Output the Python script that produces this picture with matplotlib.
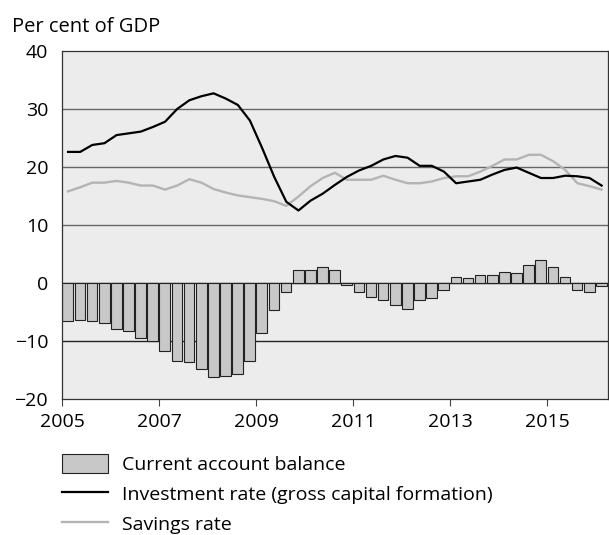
import numpy as np
import matplotlib.pyplot as plt
from matplotlib.patches import Patch
from matplotlib.lines import Line2D

plt.rcParams['font.family'] = ['Open Sans', 'DejaVu Sans']

# quarterly data 2005Q1 - 2016Q1
current_account = [-6.6, -6.3, -6.6, -6.9, -8.0, -8.3, -9.4, -10.0, -11.7, -13.4,
                   -13.7, -14.8, -16.2, -16.0, -15.7, -13.4, -8.6, -4.6, -1.5, 2.2,
                   2.2, 2.8, 2.2, -0.3, -1.5, -2.4, -2.9, -3.8, -4.4, -2.9,
                   -2.6, -1.2, 1.1, 0.8, 1.4, 1.4, 1.9, 1.7, 3.1, 4.0,
                   2.8, 1.1, -1.2, -1.5, -0.6]
investment = [22.6, 22.6, 23.8, 24.1, 25.5, 25.8, 26.1, 26.9, 27.8, 30.0,
              31.5, 32.2, 32.7, 31.8, 30.7, 28.0, 23.3, 18.3, 14.0, 12.5,
              14.2, 15.4, 16.9, 18.3, 19.4, 20.2, 21.3, 21.9, 21.6, 20.2,
              20.2, 19.2, 17.2, 17.5, 17.8, 18.7, 19.5, 19.9, 19.0, 18.1,
              18.1, 18.5, 18.4, 18.1, 16.8]
savings = [15.8, 16.5, 17.3, 17.3, 17.6, 17.3, 16.8, 16.8, 16.1, 16.8,
           17.9, 17.3, 16.2, 15.6, 15.1, 14.8, 14.5, 14.1, 13.3, 14.9,
           16.7, 18.1, 19.0, 17.8, 17.8, 17.8, 18.5, 17.8, 17.2, 17.2,
           17.5, 18.1, 18.4, 18.4, 19.2, 20.2, 21.3, 21.3, 22.1, 22.1,
           21.0, 19.5, 17.2, 16.7, 16.1]
year_ticks = [2005, 2007, 2009, 2011, 2013, 2015]
y_ticks = [-20, -10, 0, 10, 20, 30, 40]

t = 2005 + np.arange(len(current_account)) / 4.0

fig = plt.figure(figsize=(6.09, 5.35), dpi=100)
ax = fig.add_axes([0.1018, 0.2542, 0.896, 0.6505])
ax.set_facecolor('#ececec')

for v in [10, 20, 30]:
    ax.axhline(v, color='#666666', lw=1.0, zorder=1)
for v in [0, -10]:
    ax.axhline(v, color='#222222', lw=1.0, zorder=1)

ax.bar(t + 0.01, current_account, width=0.22, align='edge', color='#c8c8c8',
       edgecolor='#222222', linewidth=0.8, zorder=2)
ax.plot(t + 0.125, savings, color='#b4b4b4', lw=1.7, zorder=3)
ax.plot(t + 0.125, investment, color='black', lw=1.6, zorder=4)

ax.set_xlim(2005, 2016.25)
ax.set_ylim(-20, 40)
ax.set_xticks(year_ticks)
ax.set_yticks(y_ticks)
ax.set_yticklabels([str(v).replace('-', '\u2212') for v in y_ticks])
ax.tick_params(axis='y', length=0, labelsize=14, pad=10)
ax.tick_params(axis='x', length=5, direction='out', labelsize=14, pad=5,
               color='#444444')
for s in ax.spines.values():
    s.set_color('#333333')
    s.set_linewidth(0.9)

fig.text(0.02, 0.9407, 'Per cent of GDP', fontsize=14.5, va='baseline', ha='left')

handles = [Patch(facecolor='#c8c8c8', edgecolor='#222222', linewidth=0.8),
           Line2D([], [], color='black', lw=1.6),
           Line2D([], [], color='#b4b4b4', lw=1.7)]
labels = ['Current account balance',
          'Investment rate (gross capital formation)',
          'Savings rate']
fig.legend(handles, labels, loc='upper left', bbox_to_anchor=(0.1018, 0.151),
           frameon=False, fontsize=14, handlelength=2.37, handleheight=1.13,
           handletextpad=0.74, labelspacing=0.51, borderaxespad=0,
           borderpad=0)

fig.savefig('out.png', dpi=100)
